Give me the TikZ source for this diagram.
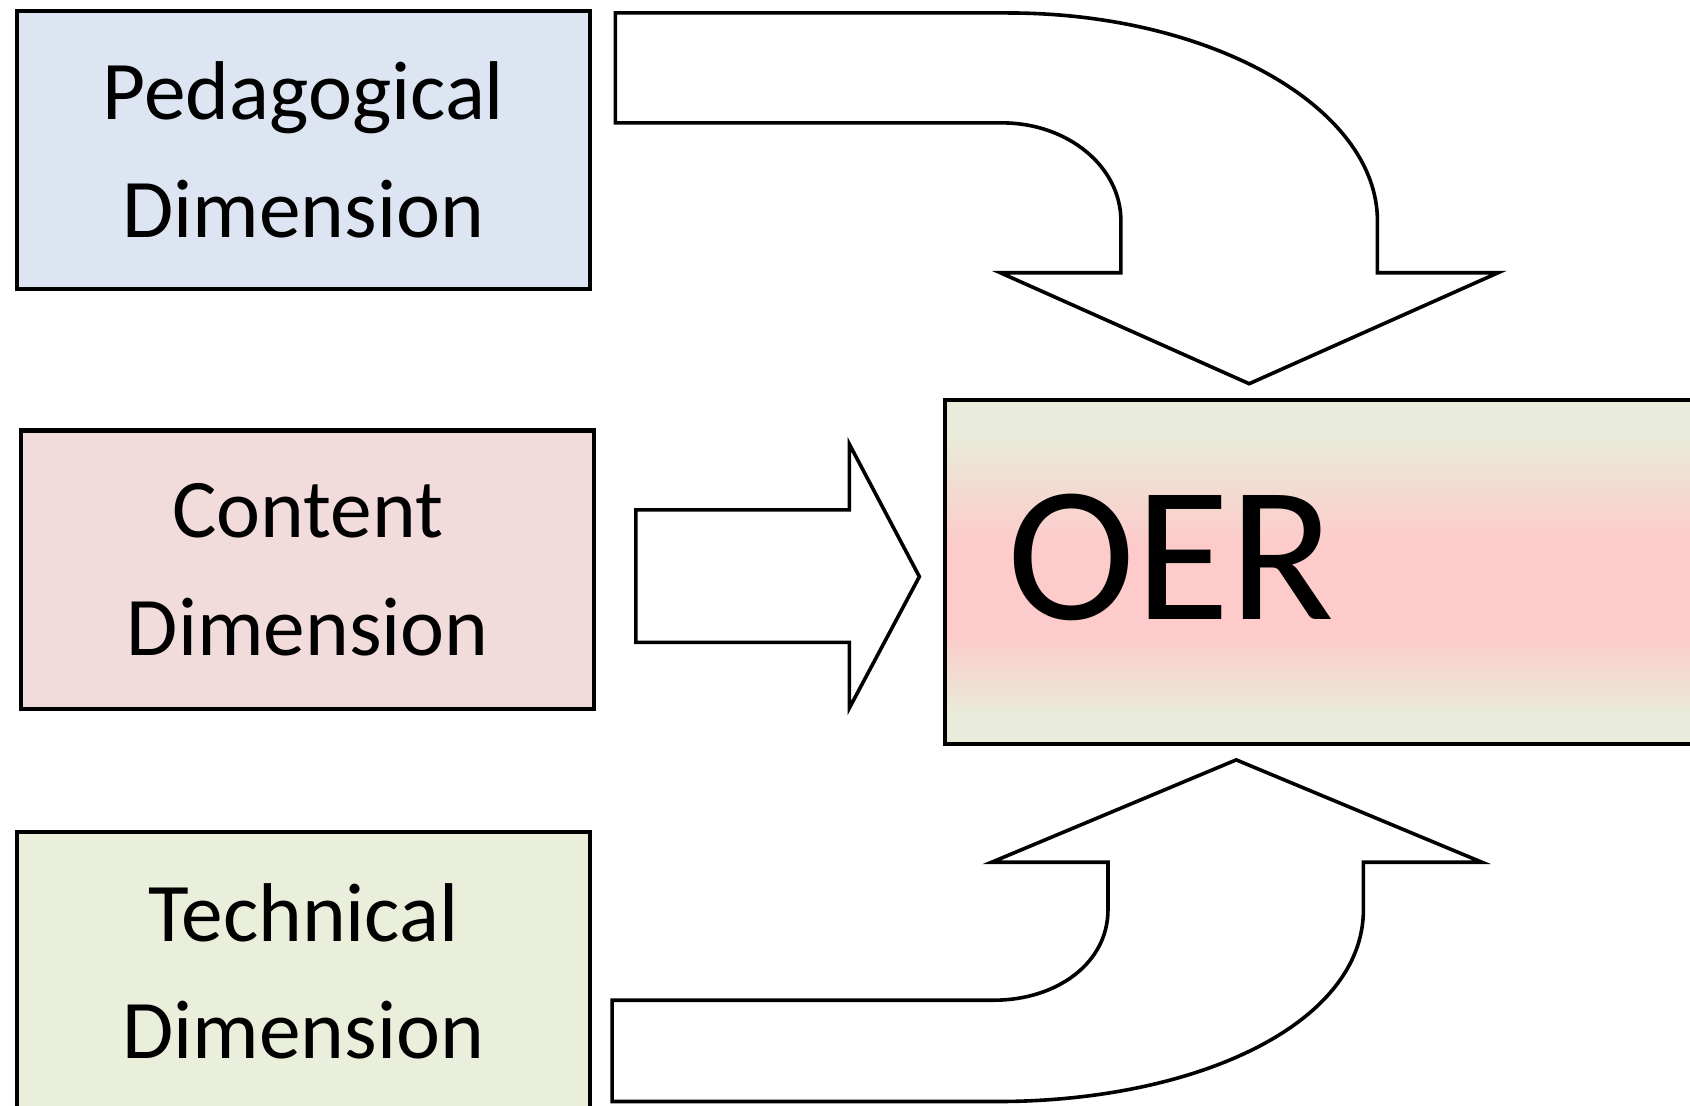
\documentclass[tikz,border=0pt]{standalone}
\usepackage{fontspec}
\setmainfont{Carlito}
\usetikzlibrary{positioning}
\definecolor{pedblue}{HTML}{DCE5F1}
\definecolor{conpink}{HTML}{F2DCDB}
\definecolor{techgreen}{HTML}{EAEFDC}
\definecolor{oergreen}{HTML}{E9ECDA}
\definecolor{oerpink}{HTML}{FCCBCA}
\pgfdeclareverticalshading{oershade}{100bp}{
    color(0bp)=(oergreen); color(29bp)=(oergreen);
    color(41bp)=(oerpink); color(54bp)=(oerpink);
    color(70bp)=(oergreen); color(100bp)=(oergreen)
}
\tikzset {
    dim box/.style = {
        draw, line width = 1.1pt,
        minimum width = 5.31cm, minimum height = 2.58cm,
        align = center,
        font = \fontsize{22}{31}\selectfont
    },
    oer box/.style = {
        draw, line width = 1.1pt,
        shade, shading = oershade,
        minimum width = 8cm, minimum height = 3.19cm,
        anchor = north west
    },
    block arrow/.style = {draw, line width = 0.95pt, fill = white, line join = miter}
}

\begin{document}
\begin{tikzpicture}[x = 0.01cm, y = -0.01cm]
    \useasboundingbox (0, 0) rectangle (1568, 1026);
    \clip (0, 0) rectangle (1568, 1026);
    % the three dimensions
    \node (ped) [dim box, fill = pedblue] at (281.5, 139) {Pedagogical\\Dimension};
    \node (con) [dim box, fill = conpink] at (285.5, 528.5) {Content\\Dimension};
    \node (tech) [dim box, fill = techgreen] at (281.5, 901) {Technical\\Dimension};
    % the resource
    \node (oer) [oer box] at (875, 369) {};
    \node (oertext) [anchor = base west, inner sep = 0pt, font = \fontsize{51}{60}\selectfont] at (934, 575) {OER};
    % bent arrow from the top
    \draw [block arrow] (571, 12) -- (935, 12)
        .. controls (1124, 12) and (1278, 100) .. (1278, 205)
        -- (1278, 253) -- (1390, 253) -- (1159, 356) -- (928, 253) -- (1040, 253) -- (1040, 205)
        .. controls (1040, 154) and (990, 114) .. (930, 114)
        -- (571, 114) -- cycle;
    % straight arrow
    \draw [block arrow] (590, 473) -- (788, 473) -- (788, 412) -- (853, 535)
        -- (788, 657) -- (788, 596) -- (590, 596) -- cycle;
    % bent arrow from the bottom
    \draw [block arrow] (568, 1022) -- (925, 1022)
        .. controls (1110, 1022) and (1265, 950) .. (1265, 844)
        -- (1265, 800) -- (1375, 800) -- (1147, 705) -- (920, 800) -- (1028, 800) -- (1028, 844)
        .. controls (1028, 894) and (980, 928) .. (922, 928)
        -- (568, 928) -- cycle;
\end{tikzpicture}
\end{document}
